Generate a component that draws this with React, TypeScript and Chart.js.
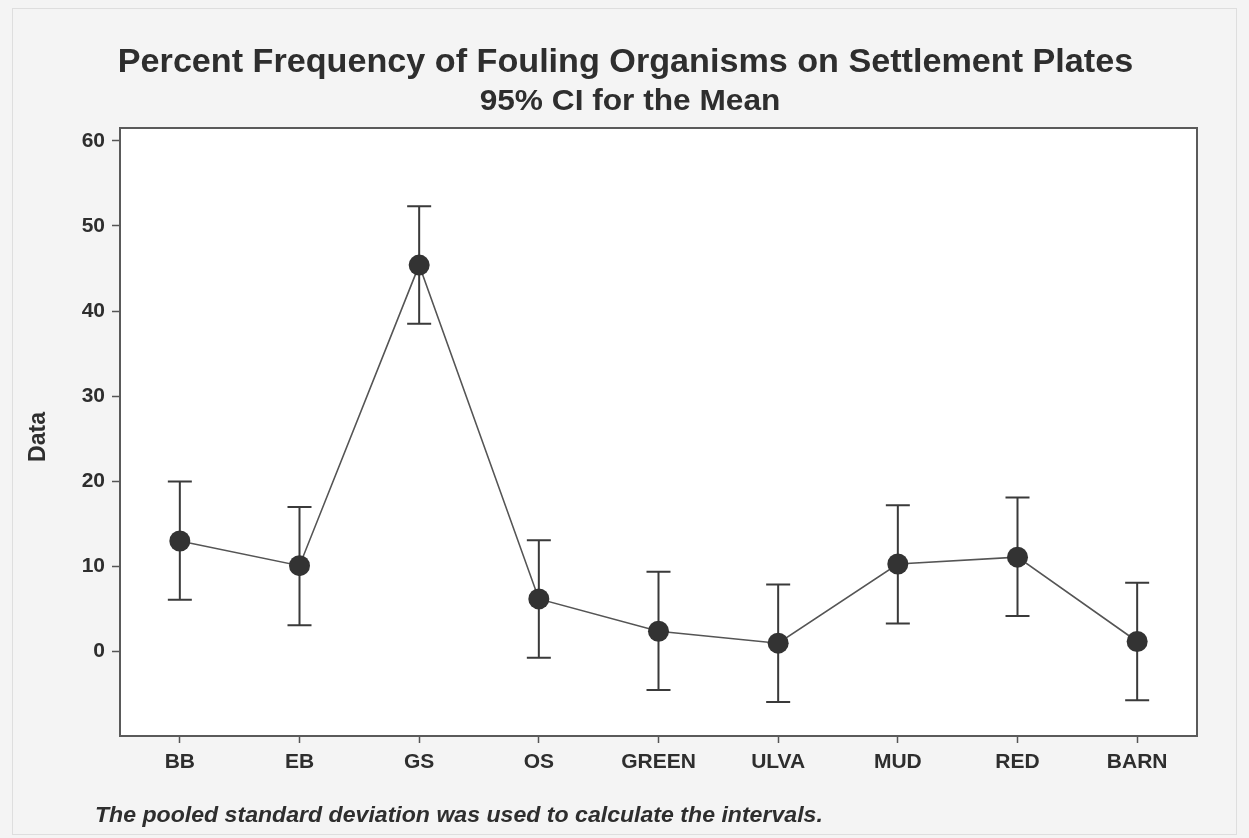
import React, { useEffect, useRef } from "react";
import { Chart, registerables } from "chart.js";

Chart.register(...registerables);

const categories = ["BB", "EB", "GS", "OS", "GREEN", "ULVA", "MUD", "RED", "BARN"];
const means = [13.0, 10.1, 45.4, 6.2, 2.4, 1.0, 10.3, 11.1, 1.2];
const lowerCI = [6.1, 3.1, 38.5, -0.7, -4.5, -5.9, 3.3, 4.2, -5.7];
const upperCI = [20.0, 17.0, 52.3, 13.1, 9.4, 7.9, 17.2, 18.1, 8.1];
const yTicks = [0, 10, 20, 30, 40, 50, 60];
const yMin = -9.9;
const yMax = 61.5;

const titleText = "Percent Frequency of Fouling Organisms on Settlement Plates";
const subtitleText = "95% CI for the Mean";
const yAxisTitle = "Data";
const footnoteText = "The pooled standard deviation was used to calculate the intervals.";

const FONT = "'Liberation Sans', Arial, Helvetica, sans-serif";
const TEXT = "#2e2e2e";

function stretchedText(ctx: any, text: string, x: number, y: number, sx: number) {
  ctx.save();
  ctx.translate(x, y);
  ctx.scale(sx, 1);
  ctx.fillText(text, 0, 0);
  ctx.restore();
}

const decorPlugin = {
  id: "decor",
  beforeDraw(chart: any) {
    const { ctx, chartArea: a, width, height } = chart;
    ctx.save();
    ctx.fillStyle = "#f4f4f4";
    ctx.fillRect(0, 0, width, height);
    ctx.strokeStyle = "#dedede";
    ctx.lineWidth = 1;
    ctx.strokeRect(12.5, 8.5, width - 25, height - 12);
    ctx.fillStyle = "#ffffff";
    ctx.fillRect(a.left, a.top, a.right - a.left, a.bottom - a.top);
    ctx.restore();
  },
  beforeDatasetsDraw(chart: any) {
    const { ctx, scales } = chart;
    const x = scales.x;
    const y = scales.y;
    ctx.save();
    ctx.strokeStyle = "#3a3a3a";
    ctx.lineWidth = 2;
    for (let i = 0; i < categories.length; i++) {
      const px = x.getPixelForValue(i);
      const lo = y.getPixelForValue(lowerCI[i]);
      const hi = y.getPixelForValue(upperCI[i]);
      ctx.beginPath();
      ctx.moveTo(px, lo);
      ctx.lineTo(px, hi);
      ctx.moveTo(px - 12, lo);
      ctx.lineTo(px + 12, lo);
      ctx.moveTo(px - 12, hi);
      ctx.lineTo(px + 12, hi);
      ctx.stroke();
    }
    ctx.restore();
  },
  afterDraw(chart: any) {
    const { ctx, chartArea: a, width } = chart;
    ctx.save();
    // plot frame
    ctx.strokeStyle = "#5a5a5a";
    ctx.lineWidth = 2;
    ctx.strokeRect(a.left, a.top, a.right - a.left, a.bottom - a.top);
    // titles
    ctx.fillStyle = TEXT;
    ctx.textAlign = "center";
    ctx.textBaseline = "alphabetic";
    ctx.font = `bold 33px ${FONT}`;
    stretchedText(ctx, titleText, width / 2 + 1, 72, 1.035);
    ctx.font = `bold 30px ${FONT}`;
    stretchedText(ctx, subtitleText, 630, 110, 1.055);
    // y axis title
    ctx.save();
    ctx.translate(39, 437);
    ctx.rotate(-Math.PI / 2);
    ctx.textBaseline = "middle";
    ctx.font = `bold 23px ${FONT}`;
    ctx.fillText(yAxisTitle, 0, 0);
    ctx.restore();
    // footnote
    ctx.textAlign = "left";
    ctx.font = `italic bold 22px ${FONT}`;
    stretchedText(ctx, footnoteText, 95, 822, 1.05);
    ctx.restore();
  },
};

export default function App() {
  const ref = useRef<HTMLCanvasElement>(null);
  useEffect(() => {
    if (!ref.current) return;
    const chart = new Chart(ref.current, {
      type: "line",
      data: {
        labels: categories,
        datasets: [
          {
            data: means,
            borderColor: "#555555",
            borderWidth: 1.6,
            pointRadius: 10.5,
            pointHoverRadius: 10.5,
            pointBackgroundColor: "#333333",
            pointBorderColor: "#333333",
            pointBorderWidth: 0,
            tension: 0,
            fill: false,
          },
        ],
      },
      options: {
        responsive: false,
        animation: false,
        events: [],
        layout: { padding: { top: 128, right: 52, bottom: 62, left: 0 } },
        plugins: {
          legend: { display: false },
          title: { display: false },
          tooltip: { enabled: false },
        },
        scales: {
          x: {
            type: "category",
            offset: true,
            afterFit(scale: any) {
              scale.height = 40;
            },
            grid: {
              display: true,
              drawOnChartArea: false,
              drawTicks: true,
              tickLength: 7,
              tickWidth: 1.5,
              tickColor: "#555555",
              offset: false,
            },
            border: { display: true, color: "#5a5a5a", width: 2 },
            ticks: {
              color: TEXT,
              padding: 7,
              maxRotation: 0,
              autoSkip: false,
              font: { family: FONT, size: 21, weight: "bold" },
            },
          },
          y: {
            type: "linear",
            min: yMin,
            max: yMax,
            afterFit(scale: any) {
              scale.width = 120;
            },
            afterBuildTicks(scale: any) {
              scale.ticks = yTicks.map((v) => ({ value: v }));
            },
            grid: {
              display: true,
              drawOnChartArea: false,
              drawTicks: true,
              tickLength: 8,
              tickWidth: 1.5,
              tickColor: "#555555",
            },
            border: { display: true, color: "#5a5a5a", width: 2 },
            ticks: {
              color: TEXT,
              padding: 7,
              font: { family: FONT, size: 21, weight: "bold" },
            },
          },
        },
      },
      plugins: [decorPlugin],
    });
    return () => chart.destroy();
  }, []);
  return (
    <div style={{ position: "absolute", left: 0, top: 0, width: 1249, height: 838 }}>
      <canvas ref={ref} width={1249} height={838} style={{ display: "block" }} />
    </div>
  );
}
